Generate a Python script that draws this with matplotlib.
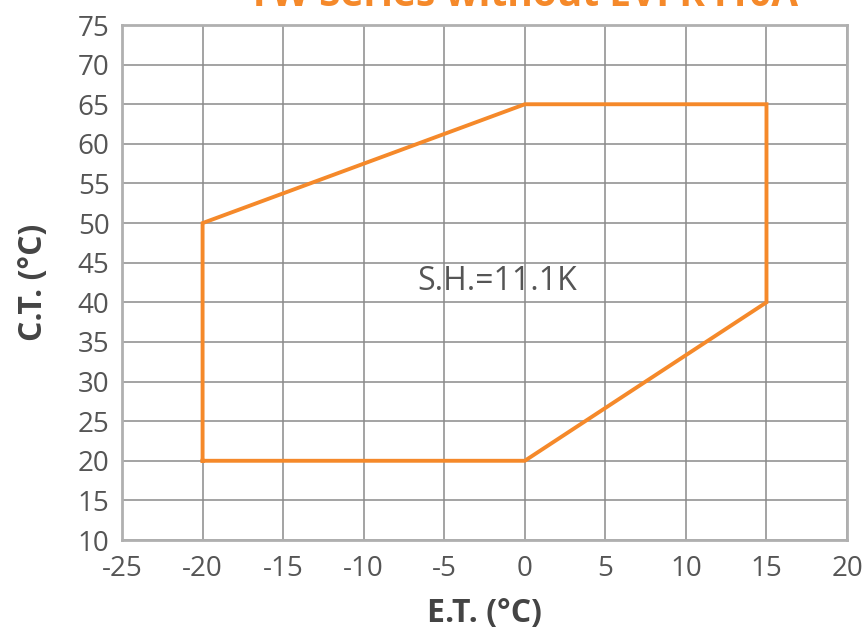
import matplotlib
matplotlib.use("Agg")
import matplotlib.pyplot as plt

et = [-20, 0, 15, 15, 0, -20, -20]
ct = [20, 20, 40, 65, 65, 50, 20]
xticks = [-25, -20, -15, -10, -5, 0, 5, 10, 15, 20]
yticks = [10, 15, 20, 25, 30, 35, 40, 45, 50, 55, 60, 65, 70, 75]
title = "YW Series without EVI R410A"
annot = "S.H.=11.1K"

plt.rcParams['font.family'] = ['Open Sans', 'DejaVu Sans']
plt.rcParams['axes.unicode_minus'] = False
orange = '#F5892A'
grey = '#8a8a8a'

fig = plt.figure(figsize=(8.63, 6.35), dpi=100)
ax = fig.add_axes([0.1414, 0.1496, 0.8401, 0.811])
ax.plot(et, ct, color=orange, lw=2.8, solid_joinstyle='miter', zorder=3)
ax.set_xlim(-25, 20)
ax.set_ylim(10, 75)
ax.set_xticks(xticks)
ax.set_yticks(yticks)
ax.grid(True, color=grey, lw=1.1)
for s in ax.spines.values():
    s.set_color('#b0b0b0')
    s.set_linewidth(2.0)
ax.tick_params(length=0, labelsize=20, colors='#555555')
ax.tick_params(axis='y', pad=9)
ax.tick_params(axis='x', pad=11)
ax.set_xlabel("E.T. (\u00b0C)", fontsize=23, fontweight='bold', color='#444444', labelpad=10)
ax.set_ylabel("C.T. (\u00b0C)", fontsize=23, fontweight='bold', color='#444444', labelpad=20)
ax.text(-1.7, 42.6, annot, fontsize=23, color='#555555', ha='center', va='center')
fig.text(0.605, 1 - 6/635, title, fontsize=28, fontweight='bold', color=orange,
         ha='center', va='baseline')
fig.savefig("out.png", dpi=100)
